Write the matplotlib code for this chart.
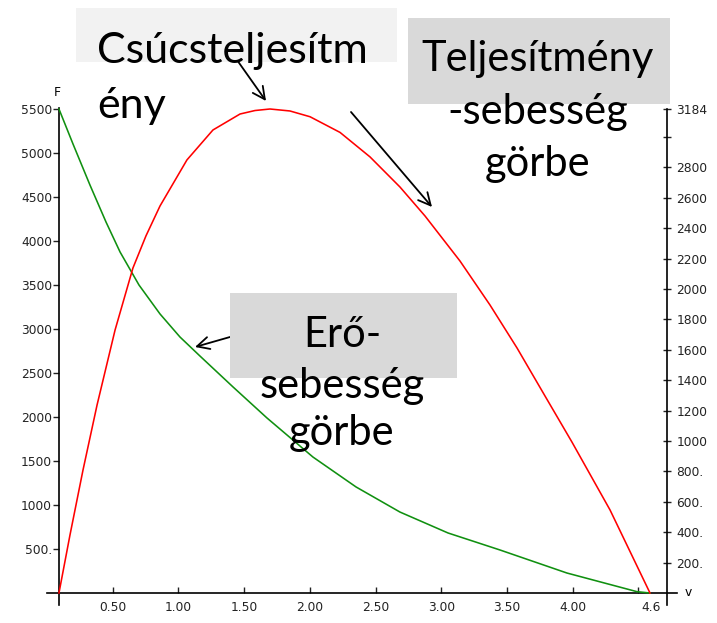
import matplotlib
matplotlib.use("Agg")
import matplotlib.pyplot as plt
from matplotlib.patches import Rectangle

W, H = 717, 623

# force-velocity curve (green, left axis)
v_force = [0.091, 0.198, 0.327, 0.449, 0.556, 0.700, 0.860, 1.012, 1.164, 1.416, 1.674,
           2.024, 2.352, 2.686, 3.052, 3.447, 3.957, 4.490, 4.589]
force = [5500, 5102, 4636, 4216, 3875, 3500, 3171, 2909, 2693, 2341, 1989,
         1545, 1205, 920, 682, 489, 227, 15, 0]

# power-velocity curve (red, right axis)
v_power = [0.091, 0.175, 0.274, 0.381, 0.518, 0.654, 0.753, 0.860, 1.065, 1.263, 1.469,
           1.583, 1.697, 1.849, 2.002, 2.230, 2.458, 2.686, 2.877, 3.143, 3.371,
           3.577, 3.790, 3.995, 4.285, 4.589]
power = [0, 382, 809, 1237, 1730, 2138, 2349, 2546, 2849, 3046, 3151,
         3174, 3184, 3171, 3133, 3030, 2869, 2671, 2480, 2184, 1895,
         1612, 1296, 993, 546, 0]

f_ticks = [500, 1000, 1500, 2000, 2500, 3000, 3500, 4000, 4500, 5000, 5500]
f_labels = ["500.", "1000", "1500", "2000", "2500", "3000", "3500", "4000", "4500", "5000", "5500"]
p_ticks = [200, 400, 600, 800, 1000, 1200, 1400, 1600, 1800, 2000, 2200, 2400, 2600, 2800, 3000, 3184]
p_labels = ["200.", "400.", "600.", "800.", "1000", "1200", "1400", "1600", "1800", "2000",
            "2200", "2400", "2600", "2800", "", "3184"]
v_ticks = [0.5, 1.0, 1.5, 2.0, 2.5, 3.0, 3.5, 4.0, 4.5, 4.6]
v_labels = ["0.50", "1.00", "1.50", "2.00", "2.50", "3.00", "3.50", "4.00", "", "4.6"]


def fx(x):
    return x / W


def fy(y):
    return 1 - y / H


fig = plt.figure(figsize=(W / 100, H / 100), dpi=100)

# axes box in pixels: x 47..677, y 108..605
ax = fig.add_axes([fx(47), fy(605), (677 - 47) / W, (605 - 108) / H])
ax.set_facecolor("none")
x_per_px = 1 / 131.4
ax.set_xlim(0, (677 - 47) * x_per_px)
f_per_px = 500 / 44
ax.set_ylim(-(605 - 593) * f_per_px, (593 - 108) * f_per_px)

ax.spines["top"].set_visible(False)
ax.spines["right"].set_visible(False)
ax.spines["left"].set_position(("data", v_force[0]))
ax.spines["bottom"].set_position(("data", 0))
for s in ("left", "bottom"):
    ax.spines[s].set_linewidth(1.2)

tick_font = dict(family="DejaVu Sans", size=8.8)

ax.set_yticks(f_ticks)
ax.set_yticklabels(f_labels, **tick_font)
ax.tick_params(axis="y", direction="out", length=4, width=1, pad=1, colors="#222222")

ax.set_xticks(v_ticks)
ax.set_xticklabels(v_labels, **tick_font)
ax.tick_params(axis="x", direction="in", length=4, width=1, pad=6, colors="#222222")
ax.xaxis.get_major_ticks()[-1].tick1line.set_visible(False)

ax.plot(v_force, force, color="#109010", lw=1.15, zorder=3)

ax2 = ax.twinx()
ax2.set_ylim(-(605 - 593) * 3184 / 484, (593 - 108) * 3184 / 484)
for s in ("top", "left", "bottom"):
    ax2.spines[s].set_visible(False)
ax2.spines["right"].set_position(("data", (666.5 - 47) * x_per_px))
ax2.spines["right"].set_linewidth(1.2)
ax2.spines["right"].set_bounds(-(605 - 593) * 3184 / 484, 3184)
ax2.set_yticks(p_ticks)
ax2.set_yticklabels(p_labels, **tick_font)
ax2.tick_params(axis="y", direction="inout", length=6, width=1, pad=4, colors="#222222")
ax2.plot(v_power, power, color="#ff0000", lw=1.15, zorder=3)

# axis letters
fig.text(fx(57), fy(92), "F", ha="center", va="center", fontdict=tick_font)
fig.text(fx(688), fy(593), "v", ha="center", va="center", fontdict=tick_font)

# callout boxes
fig.patches.append(Rectangle((fx(76), fy(62)), (397 - 76) / W, (62 - 8) / H,
                             transform=fig.transFigure, facecolor="#f2f2f2", edgecolor="none", zorder=0))
fig.patches.append(Rectangle((fx(408), fy(104)), (670 - 408) / W, (104 - 18) / H,
                             transform=fig.transFigure, facecolor="#d9d9d9", edgecolor="none", zorder=0))
fig.patches.append(Rectangle((fx(230), fy(378)), (457 - 230) / W, (378 - 293) / H,
                             transform=fig.transFigure, facecolor="#d9d9d9", edgecolor="none", zorder=0))

label_font = dict(family="Lato", size=31)

fig.text(fx(97), fy(63), "Csúcsteljesítm", ha="left", va="baseline", fontdict=label_font, zorder=5)
fig.text(fx(97), fy(118), "ény", ha="left", va="baseline", fontdict=label_font, zorder=5)

for y, s in [(71, "Teljesítmény"), (124, "-sebesség"), (176, "görbe")]:
    fig.text(fx(538), fy(y), s, ha="center", va="baseline", fontdict=dict(label_font, size=30), zorder=5)

for y, s in [(347, "Erő-"), (398, "sebesség"), (445, "görbe")]:
    fig.text(fx(342), fy(y), s, ha="center", va="baseline", fontdict=dict(label_font, size=30), zorder=5)

arrow = dict(arrowstyle="->", color="black", lw=1.3, mutation_scale=22, shrinkA=0, shrinkB=0)
for (x0, y0), (x1, y1) in [((237, 60), (266, 101)),
                           ((351, 112), (432, 207)),
                           ((230, 337), (195, 347))]:
    ax.annotate("", xy=(x1, H - y1), xycoords="figure pixels",
                xytext=(x0, H - y0), textcoords="figure pixels",
                arrowprops=arrow, annotation_clip=False)

fig.savefig("out.png", dpi=100)
